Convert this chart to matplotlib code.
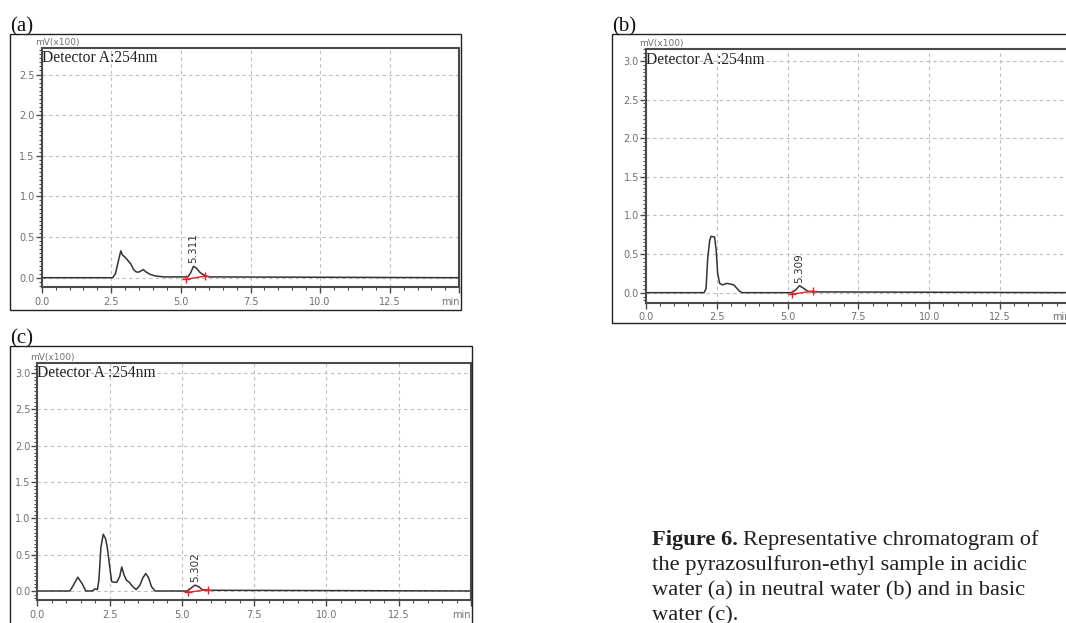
import numpy as np
import matplotlib
matplotlib.use("Agg")
import matplotlib.pyplot as plt
from matplotlib.patches import Rectangle
from matplotlib.ticker import MultipleLocator

# ── chromatogram traces (time in min, signal in mV x100) ──
time_a = [0, 2.55, 2.65, 2.75, 2.84, 2.9, 3.0, 3.1, 3.2, 3.3, 3.4, 3.5, 3.6, 3.65,
          3.75, 3.9, 4.1, 4.4, 5.0, 5.25, 5.35, 5.45, 5.55, 5.7, 5.85, 6.0, 15]
signal_a = [0, 0, 0.05, 0.2, 0.33, 0.28, 0.25, 0.21, 0.17, 0.1, 0.07, 0.07, 0.09, 0.10,
            0.07, 0.04, 0.02, 0.01, 0.01, 0.01, 0.06, 0.14, 0.12, 0.06, 0.03, 0.01, 0]

time_b = [0, 2.05, 2.12, 2.18, 2.25, 2.3, 2.42, 2.48, 2.53, 2.6, 2.7, 2.85, 3.0, 3.1,
          3.2, 3.3, 3.4, 5.15, 5.3, 5.42, 5.55, 5.7, 5.85, 15]
signal_b = [0, 0, 0.05, 0.45, 0.68, 0.73, 0.72, 0.55, 0.25, 0.12, 0.1, 0.12, 0.11, 0.1,
            0.06, 0.02, 0, 0, 0.04, 0.09, 0.06, 0.02, 0.01, 0]

time_c = [0, 1.13, 1.25, 1.4, 1.55, 1.68, 1.9, 2.0, 2.08, 2.13, 2.2, 2.28, 2.36, 2.42,
          2.5, 2.57, 2.65, 2.75, 2.85, 2.92, 3.0, 3.08, 3.18, 3.3, 3.42, 3.55, 3.65,
          3.75, 3.85, 3.95, 4.07, 5.2, 5.32, 5.45, 5.58, 5.7, 5.85, 15]
signal_c = [0, 0, 0.08, 0.19, 0.1, 0.0, 0.0, 0.03, 0.02, 0.15, 0.6, 0.78, 0.72, 0.6,
            0.35, 0.13, 0.12, 0.12, 0.2, 0.33, 0.22, 0.15, 0.12, 0.06, 0.02, 0.08, 0.18,
            0.24, 0.18, 0.06, 0.0, 0.0, 0.04, 0.08, 0.06, 0.02, 0.01, 0]

# analyte peak: retention time label, apex, integration start/end
peak_labels = ["5.311", "5.309", "5.302"]
peak_apex = [(5.45, 0.14), (5.42, 0.09), (5.45, 0.08)]
integ_start = [(5.2, -0.02), (5.15, -0.02), (5.2, -0.02)]
integ_end = [(5.85, 0.02), (5.9, 0.02), (5.9, 0.02)]

detector_labels = ["Detector A:254nm", "Detector A :254nm", "Detector A :254nm"]
panel_tags = ["(a)", "(b)", "(c)"]
x_ticks = [0.0, 2.5, 5.0, 7.5, 10.0, 12.5]
y_ticks = [0.0, 0.5, 1.0, 1.5, 2.0, 2.5, 3.0]

caption_bold = "Figure 6."
caption_lines = [
    "Representative chromatogram of",
    "the pyrazosulfuron-ethyl sample in acidic",
    "water (a) in neutral water (b) and in basic",
    "water (c).",
]

W, H = 1066, 623
fig = plt.figure(figsize=(W / 100, H / 100), dpi=100)
fig.patch.set_facecolor("white")


def px_box(l, t, r, b):
    return [l / W, 1 - b / H, (r - l) / W, (b - t) / H]


# pixel layout: outer frame, axes area, y-limits
panels = [
    dict(outer=(10, 34, 461, 310), axes=(41.7, 47.7, 459.3, 287.3), ylim=(-0.118, 2.83)),
    dict(outer=(612, 34, 1075, 323), axes=(646, 49.3, 1070.8, 302.7), ylim=(-0.13, 3.15)),
    dict(outer=(10, 346, 472, 640), axes=(37.3, 362.7, 471, 600), ylim=(-0.124, 3.14)),
]
traces = [(time_a, signal_a), (time_b, signal_b), (time_c, signal_c)]

tick_grey = "#707070"
frame_grey = "#4a4a4a"

for i, p in enumerate(panels):
    l, t, r, b = p["outer"]
    fig.patches.append(Rectangle((l / W, 1 - b / H), (r - l) / W, (b - t) / H,
                                 transform=fig.transFigure, fill=False,
                                 edgecolor="#222222", linewidth=1.0))
    fig.text(l / W, 1 - (t + 2) / H, panel_tags[i], family="Liberation Serif",
             fontsize=15, ha="left", va="bottom", color="#111111")

    ax = fig.add_axes(px_box(*p["axes"]))
    for s in ax.spines.values():
        s.set_color(frame_grey)
        s.set_linewidth(1.5)

    yt = [v for v in y_ticks if v <= p["ylim"][1]]
    ax.set_xticks(x_ticks + [15.0])
    ax.set_xticklabels([f"{v:.1f}" for v in x_ticks] + ["min"])
    ax.get_xticklabels()[-1].set_horizontalalignment("right")
    ax.xaxis.set_minor_locator(MultipleLocator(0.5))
    ax.set_yticks(yt)
    ax.set_yticklabels([f"{v:.1f}" for v in yt])
    ax.yaxis.set_minor_locator(MultipleLocator(0.05))
    ax.set_xlim(0, 15)
    ax.set_ylim(*p["ylim"])
    ax.tick_params(axis="both", which="major", labelsize=7, colors=frame_grey,
                   labelcolor=tick_grey, direction="out", length=4, width=1)
    ax.tick_params(axis="both", which="minor", colors=frame_grey, direction="out",
                   length=2, width=0.8)
    ax.tick_params(axis="x", pad=3)
    ax.tick_params(axis="y", pad=1)
    ax.grid(True, which="major", color="#bdbdbd", linestyle=(0, (3, 3)), linewidth=0.8)

    ax.annotate("mV(x100)", xy=(0, 1), xycoords="axes fraction", xytext=(-7, 1),
                textcoords="offset pixels", fontsize=6.5, color=tick_grey,
                ha="left", va="bottom")
    ax.text(0.0, 0.99, detector_labels[i], transform=ax.transAxes,
            family="Liberation Serif", fontsize=11.2, color="#222222",
            ha="left", va="top")

    tt, ss = traces[i]
    ax.plot(tt, ss, color="#333333", linewidth=1.1)

    xs, ys = integ_start[i]
    xe, ye = integ_end[i]
    ax.plot([xs, xe], [ys, ye], color="#e8202a", linewidth=1.0)
    ax.plot([xs, xe], [ys, ye], linestyle="none", marker="+", color="#e8202a",
            markersize=6, markeredgewidth=1.0)

    px, py = peak_apex[i]
    ax.text(px, py + 0.04, peak_labels[i], rotation=90, fontsize=7.5,
            color="#333333", ha="center", va="bottom")

# caption
cap_x, cap_y0, cap_dy, cap_fs = 652, 545, 25, 16.2
bold = fig.text(cap_x / W, 1 - cap_y0 / H, caption_bold, family="Liberation Serif",
                fontsize=cap_fs, fontweight="bold", ha="left", va="baseline",
                color="#231f20")
renderer = fig.canvas.get_renderer()
bold_w = bold.get_window_extent(renderer).width
fig.text((cap_x + bold_w + 5) / W, 1 - cap_y0 / H, caption_lines[0],
         family="Liberation Serif", fontsize=cap_fs, ha="left", va="baseline",
         color="#231f20")
for k, line in enumerate(caption_lines[1:], start=1):
    fig.text(cap_x / W, 1 - (cap_y0 + cap_dy * k) / H, line, family="Liberation Serif",
             fontsize=cap_fs, ha="left", va="baseline", color="#231f20")

fig.savefig("out.png", dpi=100)
